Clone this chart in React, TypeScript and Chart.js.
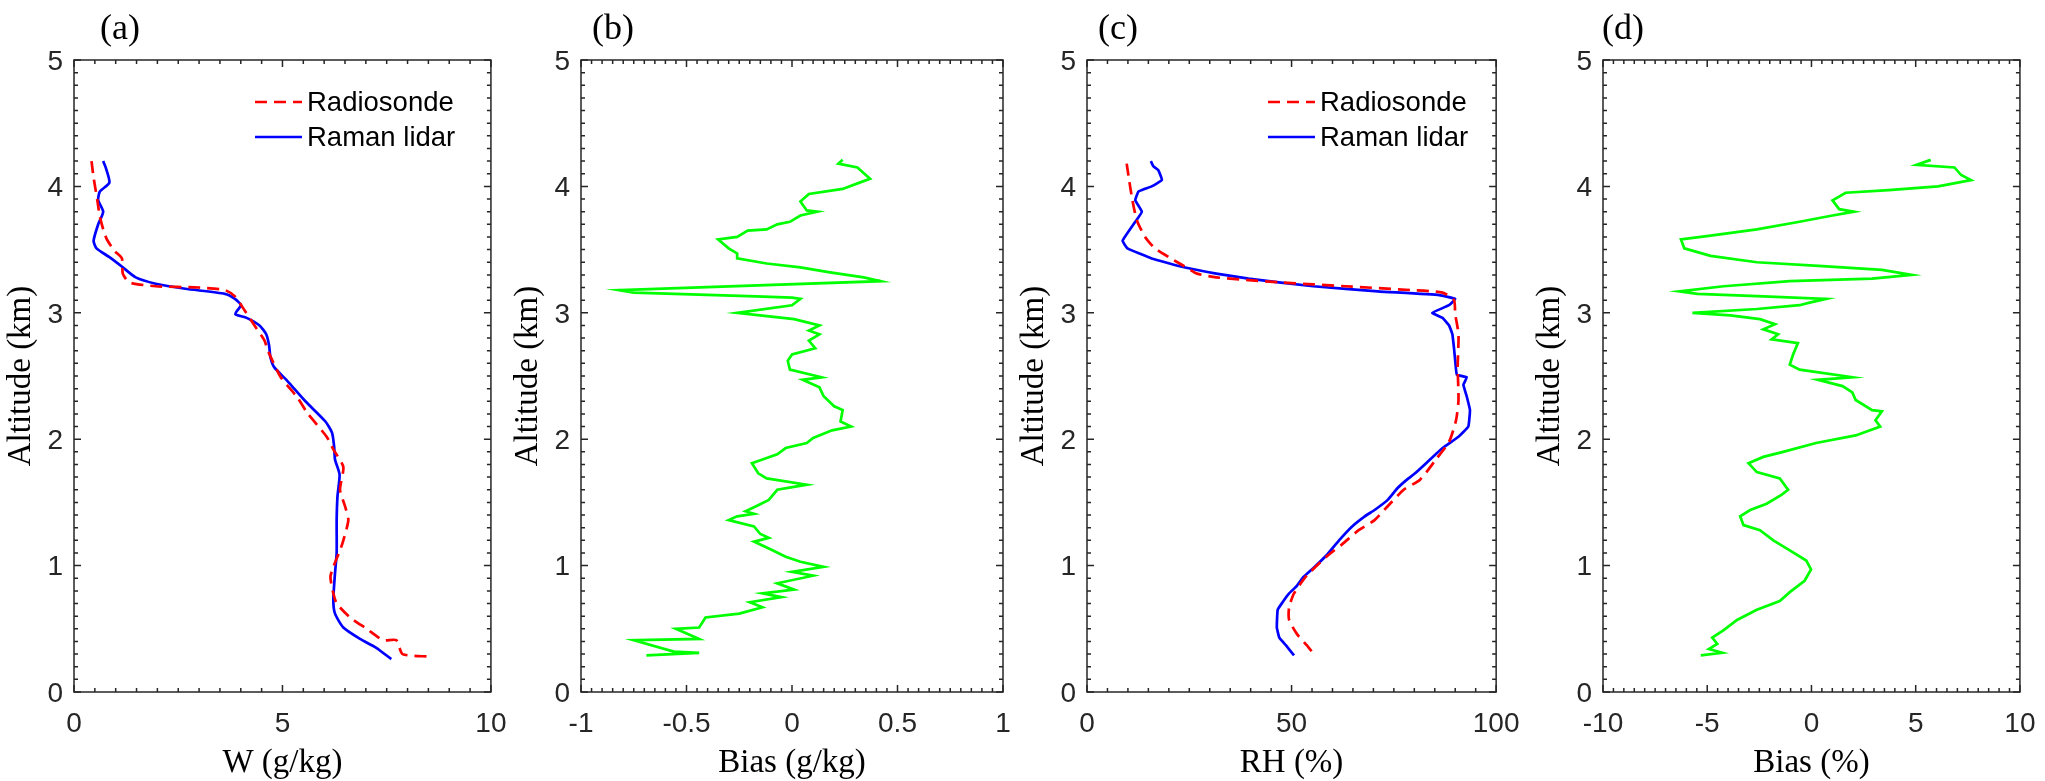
import { useEffect, useRef } from "react";
import Chart from "chart.js/auto";

// altitude (km) / value pairs
const altW_sonde = [4.2, 4.07, 3.89, 3.76, 3.65, 3.58, 3.49, 3.43, 3.31, 3.24, 3.21, 3.2, 3.18, 3.13, 3.02, 2.9, 2.78, 2.7, 2.49, 2.33, 2.21, 2.02, 1.92, 1.78, 1.6, 1.47, 1.36, 1.2, 1.12, 0.99, 0.91, 0.78, 0.7, 0.59, 0.5, 0.41, 0.41, 0.3, 0.28];
const w_sonde = [0.42, 0.47, 0.56, 0.62, 0.71, 0.79, 0.97, 1.15, 1.17, 1.33, 1.96, 2.99, 3.62, 3.86, 4.09, 4.33, 4.57, 4.65, 4.96, 5.36, 5.59, 6.06, 6.22, 6.46, 6.38, 6.5, 6.58, 6.46, 6.38, 6.22, 6.15, 6.22, 6.3, 6.62, 7.02, 7.41, 7.73, 7.88, 8.51];

const altW_lidar = [4.2, 4.15, 4.03, 3.96, 3.89, 3.8, 3.7, 3.57, 3.51, 3.44, 3.36, 3.28, 3.23, 3.19, 3.15, 3.11, 3.06, 2.99, 2.96, 2.9, 2.83, 2.74, 2.65, 2.57, 2.46, 2.3, 2.14, 2.05, 1.94, 1.84, 1.72, 1.55, 1.36, 1.1, 0.94, 0.73, 0.62, 0.51, 0.42, 0.35, 0.26];
const w_lidar = [0.7, 0.76, 0.85, 0.62, 0.58, 0.7, 0.58, 0.47, 0.54, 0.85, 1.17, 1.48, 1.96, 2.67, 3.62, 3.86, 4.0, 3.87, 4.14, 4.45, 4.61, 4.68, 4.71, 4.8, 5.12, 5.55, 6.03, 6.19, 6.24, 6.26, 6.37, 6.32, 6.3, 6.3, 6.26, 6.22, 6.26, 6.46, 6.86, 7.25, 7.61];

const altW_bias = [4.21, 4.18, 4.15, 4.06, 4.03, 3.98, 3.94, 3.88, 3.81, 3.8, 3.77, 3.72, 3.7, 3.66, 3.65, 3.6, 3.58, 3.51, 3.47, 3.43, 3.39, 3.36, 3.32, 3.28, 3.25, 3.18, 3.16, 3.13, 3.12, 3.11, 3.06, 3.0, 2.95, 2.9, 2.86, 2.83, 2.78, 2.72, 2.67, 2.62, 2.55, 2.49, 2.47, 2.41, 2.34, 2.26, 2.23, 2.14, 2.1, 2.07, 2.01, 1.97, 1.93, 1.88, 1.84, 1.81, 1.73, 1.69, 1.64, 1.6, 1.52, 1.47, 1.43, 1.41, 1.39, 1.36, 1.31, 1.25, 1.22, 1.19, 1.12, 1.07, 1.03, 0.99, 0.95, 0.92, 0.86, 0.81, 0.78, 0.75, 0.71, 0.67, 0.62, 0.59, 0.51, 0.5, 0.42, 0.41, 0.32, 0.31, 0.29];
const w_bias = [0.24, 0.22, 0.31, 0.37, 0.32, 0.24, 0.08, 0.04, 0.07, 0.12, 0.04, -0.01, -0.07, -0.12, -0.21, -0.26, -0.35, -0.3, -0.26, -0.26, -0.12, 0.04, 0.18, 0.34, 0.42, -0.82, -0.75, -0.17, 0.0, 0.04, 0.0, -0.26, 0.01, 0.13, 0.08, 0.13, 0.08, 0.11, 0.0, -0.02, -0.01, 0.14, 0.05, 0.13, 0.15, 0.2, 0.24, 0.23, 0.28, 0.19, 0.1, 0.07, -0.03, -0.07, -0.14, -0.19, -0.16, -0.12, 0.07, -0.07, -0.11, -0.17, -0.22, -0.18, -0.26, -0.3, -0.18, -0.15, -0.11, -0.18, -0.09, -0.03, 0.04, 0.15, 0.0, 0.1, -0.07, 0.01, -0.14, -0.05, -0.2, -0.14, -0.25, -0.41, -0.44, -0.55, -0.44, -0.75, -0.56, -0.44, -0.69];

const altRH_sonde = [4.18, 4.05, 3.89, 3.73, 3.6, 3.51, 3.43, 3.37, 3.31, 3.28, 3.24, 3.21, 3.18, 3.16, 3.1, 2.99, 2.83, 2.57, 2.31, 2.15, 1.98, 1.84, 1.68, 1.6, 1.47, 1.36, 1.28, 1.17, 1.07, 0.92, 0.78, 0.67, 0.57, 0.46, 0.37, 0.29];
const rh_sonde = [9.7, 10.3, 11.1, 12.2, 14.2, 16.6, 20.5, 23.7, 26.9, 31.6, 47.4, 63.2, 79.0, 86.9, 89.7, 90.0, 90.8, 90.6, 90.8, 90.2, 88.5, 85.3, 81.4, 77.4, 73.5, 70.3, 66.4, 62.4, 58.5, 53.7, 50.6, 49.4, 49.4, 51.3, 53.7, 55.7];

const altRH_lidar = [4.2, 4.16, 4.13, 4.05, 4.0, 3.96, 3.89, 3.8, 3.72, 3.57, 3.51, 3.43, 3.36, 3.31, 3.27, 3.21, 3.17, 3.14, 3.11, 3.06, 3.0, 2.96, 2.9, 2.83, 2.72, 2.62, 2.51, 2.49, 2.43, 2.34, 2.23, 2.1, 2.02, 1.93, 1.81, 1.73, 1.68, 1.61, 1.52, 1.44, 1.39, 1.31, 1.2, 1.08, 0.98, 0.91, 0.84, 0.78, 0.71, 0.65, 0.51, 0.43, 0.37, 0.29];
const rh_lidar = [15.6, 16.2, 17.4, 18.3, 15.8, 12.6, 11.8, 13.4, 11.8, 8.7, 9.9, 15.8, 23.7, 31.6, 39.5, 55.3, 71.1, 86.1, 90.0, 88.5, 84.4, 86.9, 88.5, 89.3, 89.7, 90.0, 90.4, 92.8, 92.0, 92.8, 93.6, 93.2, 90.8, 86.9, 82.9, 80.2, 78.2, 75.8, 73.5, 70.3, 67.9, 64.8, 61.6, 58.5, 55.3, 52.9, 51.3, 49.4, 47.8, 46.6, 46.4, 47.0, 48.6, 50.6];

const altRH_bias = [4.21, 4.17, 4.15, 4.09, 4.05, 4.0, 3.97, 3.95, 3.89, 3.82, 3.8, 3.77, 3.72, 3.66, 3.61, 3.58, 3.51, 3.45, 3.4, 3.37, 3.34, 3.3, 3.27, 3.25, 3.21, 3.17, 3.15, 3.13, 3.11, 3.08, 3.06, 3.03, 3.0, 2.98, 2.95, 2.91, 2.87, 2.83, 2.79, 2.76, 2.67, 2.59, 2.55, 2.49, 2.47, 2.42, 2.37, 2.31, 2.23, 2.22, 2.15, 2.1, 2.03, 1.97, 1.9, 1.86, 1.81, 1.74, 1.69, 1.6, 1.56, 1.49, 1.44, 1.39, 1.32, 1.28, 1.2, 1.12, 1.04, 0.97, 0.88, 0.79, 0.72, 0.65, 0.57, 0.49, 0.43, 0.38, 0.34, 0.31, 0.29];
const rh_bias = [5.72, 5.04, 6.86, 7.18, 7.65, 6.07, 3.7, 1.64, 1.01, 1.33, 2.04, 1.01, -0.57, -2.62, -4.84, -6.26, -6.1, -4.84, -2.62, 0.54, 3.38, 4.81, 2.91, -1.04, -4.21, -6.34, -5.47, -2.31, 0.7, -0.09, -0.57, -2.62, -5.71, -3.89, -2.47, -1.75, -2.31, -1.6, -1.91, -0.65, -0.88, -1.04, -0.57, 1.96, 0.3, 1.49, 1.96, 2.12, 2.91, 3.38, 3.07, 3.3, 2.12, 0.22, -1.36, -2.31, -3.02, -2.62, -1.52, -1.12, -1.44, -2.15, -2.94, -3.42, -3.26, -2.47, -1.83, -1.04, -0.25, -0.02, -0.33, -1.04, -1.52, -2.62, -3.57, -4.21, -4.76, -4.52, -4.92, -4.28, -5.31];

const CANVAS_W = 522;
const CANVAS_H = 781;
const AXIS_W = 74;
const PLOT_TOP = 60;
const XAXIS_H = 89;

const TICK_FONT = "'Liberation Sans', Arial, sans-serif";
const SERIF = "'Liberation Serif', 'Times New Roman', serif";

type Series = { label: string; alt: number[]; val: number[]; color: string; dash: number[]; tension: number };
type Panel = {
  tag: string;
  tagDx: number;
  plotLeft: number;
  xMin: number;
  xMax: number;
  xStep: number;
  xMinor: number;
  xTitle: string;
  legend: boolean;
  series: Series[];
};

const RED = "#ff0000";
const BLUE = "#0000ff";
const GREEN = "#00ff00";

const panels: Panel[] = [
  {
    tag: "(a)", tagDx: 26, plotLeft: 74, xMin: 0, xMax: 10, xStep: 5, xMinor: 0.5, xTitle: "W (g/kg)", legend: true,
    series: [
      { label: "Radiosonde", alt: altW_sonde, val: w_sonde, color: RED, dash: [12, 7], tension: 0.2 },
      { label: "Raman lidar", alt: altW_lidar, val: w_lidar, color: BLUE, dash: [], tension: 0.2 },
    ],
  },
  {
    tag: "(b)", tagDx: 11, plotLeft: 581, xMin: -1, xMax: 1, xStep: 0.5, xMinor: 0.05, xTitle: "Bias (g/kg)", legend: false,
    series: [{ label: "Bias", alt: altW_bias, val: w_bias, color: GREEN, dash: [], tension: 0 }],
  },
  {
    tag: "(c)", tagDx: 11, plotLeft: 1087, xMin: 0, xMax: 100, xStep: 50, xMinor: 5, xTitle: "RH (%)", legend: true,
    series: [
      { label: "Radiosonde", alt: altRH_sonde, val: rh_sonde, color: RED, dash: [12, 7], tension: 0.2 },
      { label: "Raman lidar", alt: altRH_lidar, val: rh_lidar, color: BLUE, dash: [], tension: 0.1 },
    ],
  },
  {
    tag: "(d)", tagDx: -1, plotLeft: 1603, xMin: -10, xMax: 10, xStep: 5, xMinor: 0.5, xTitle: "Bias (%)", legend: false,
    series: [{ label: "Bias", alt: altRH_bias, val: rh_bias, color: GREEN, dash: [], tension: 0 }],
  },
];

// MATLAB-style tick text: -1, -0.5, 0, 0.5, 1
const fmtTick = (v: number | string) => String(Number(Number(v).toFixed(3)));

// box, inward major/minor ticks on all four sides, legend and panel tag
const framePlugin = {
  id: "frame",
  afterDraw(chart: any, _args: any, opts: any) {
    const { ctx, chartArea } = chart;
    const { left, top, right, bottom } = chartArea;
    const xs = chart.scales.x;
    const ys = chart.scales.y;
    ctx.save();
    ctx.strokeStyle = "#262626";
    ctx.lineWidth = 1.5;
    ctx.beginPath();

    const nx = Math.round((xs.max - xs.min) / opts.xMinor);
    for (let i = 0; i <= nx; i++) {
      const v = xs.min + i * opts.xMinor;
      const r = v / opts.xStep;
      const len = Math.abs(r - Math.round(r)) < 1e-6 ? 7 : 4;
      const px = xs.getPixelForValue(v);
      ctx.moveTo(px, bottom);
      ctx.lineTo(px, bottom - len);
      ctx.moveTo(px, top);
      ctx.lineTo(px, top + len);
    }
    const ny = Math.round((ys.max - ys.min) / 0.1);
    for (let i = 0; i <= ny; i++) {
      const v = ys.min + i * 0.1;
      const len = i % 10 === 0 ? 7 : 4;
      const py = ys.getPixelForValue(v);
      ctx.moveTo(left, py);
      ctx.lineTo(left + len, py);
      ctx.moveTo(right, py);
      ctx.lineTo(right - len, py);
    }
    ctx.stroke();
    ctx.strokeRect(left, top, right - left, bottom - top);

    if (opts.legend) {
      ctx.font = `27.5px ${TICK_FONT}`;
      ctx.textAlign = "left";
      ctx.textBaseline = "middle";
      chart.data.datasets.forEach((ds: any, i: number) => {
        const y = top + 42 + i * 35;
        ctx.strokeStyle = ds.borderColor;
        ctx.lineWidth = 2.7;
        ctx.setLineDash(ds.borderDash || []);
        ctx.beginPath();
        ctx.moveTo(left + 181, y);
        ctx.lineTo(left + 228, y);
        ctx.stroke();
        ctx.setLineDash([]);
        ctx.fillStyle = "#000";
        ctx.fillText(ds.label, left + 233, y + 1);
      });
    }

    ctx.font = `36px ${SERIF}`;
    ctx.fillStyle = "#000";
    ctx.textAlign = "left";
    ctx.textBaseline = "alphabetic";
    ctx.fillText(opts.tag, left + opts.tagDx, 39);
    ctx.restore();
  },
};

function ProfilePanel({ panel }: { panel: Panel }) {
  const ref = useRef<HTMLCanvasElement | null>(null);

  useEffect(() => {
    const canvas = ref.current;
    if (!canvas) return;

    const chart = new Chart(canvas, {
      type: "scatter",
      data: {
        datasets: panel.series.map((s) => ({
          label: s.label,
          data: s.alt.map((a, i) => ({ x: s.val[i], y: a })),
          showLine: true,
          borderColor: s.color,
          backgroundColor: s.color,
          borderWidth: 2.7,
          borderDash: s.dash,
          tension: s.tension,
          pointRadius: 0,
          pointHoverRadius: 0,
          fill: false,
        })),
      },
      options: {
        responsive: false,
        animation: false,
        events: [],
        layout: { padding: { left: 0, top: PLOT_TOP, right: CANVAS_W - AXIS_W - 422, bottom: 0 } },
        plugins: {
          legend: { display: false },
          tooltip: { enabled: false },
          frame: { xMinor: panel.xMinor, xStep: panel.xStep, legend: panel.legend, tag: panel.tag, tagDx: panel.tagDx },
        } as any,
        scales: {
          x: {
            type: "linear",
            min: panel.xMin,
            max: panel.xMax,
            grid: { display: false, drawTicks: false },
            border: { display: false },
            ticks: { stepSize: panel.xStep, padding: 15.5, color: "#262626", font: { family: TICK_FONT, size: 28 }, callback: fmtTick },
            title: { display: true, text: panel.xTitle, color: "#000", padding: { top: 0, bottom: -2 }, font: { family: SERIF, size: 33 } },
            afterFit: (scale: any) => {
              scale.height = XAXIS_H;
            },
          },
          y: {
            type: "linear",
            min: 0,
            max: 5,
            grid: { display: false, drawTicks: false },
            border: { display: false },
            ticks: { stepSize: 1, padding: 11, labelOffset: 2, color: "#262626", font: { family: TICK_FONT, size: 28 }, callback: fmtTick },
            title: { display: true, text: "Altitude (km)", color: "#000", padding: { top: 2, bottom: 0 }, font: { family: SERIF, size: 33 } },
            afterFit: (scale: any) => {
              scale.width = AXIS_W;
            },
          },
        },
      },
      plugins: [framePlugin],
    });

    return () => {
      chart.destroy();
    };
  }, [panel]);

  return (
    <canvas
      ref={ref}
      width={CANVAS_W}
      height={CANVAS_H}
      style={{ position: "absolute", left: panel.plotLeft - AXIS_W, top: 0, width: CANVAS_W, height: CANVAS_H }}
    />
  );
}

export default function App() {
  return (
    <div style={{ position: "absolute", left: 0, top: 0, width: 2045, height: 781, overflow: "hidden", background: "#fff" }}>
      {panels.map((p) => (
        <ProfilePanel key={p.tag} panel={p} />
      ))}
    </div>
  );
}
